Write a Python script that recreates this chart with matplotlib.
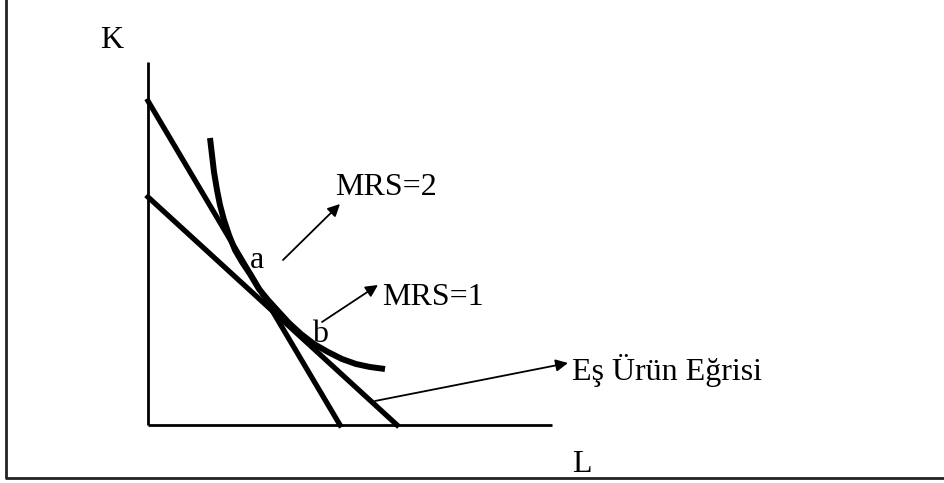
import matplotlib.pyplot as plt

plt.rcParams['font.family'] = ['Liberation Serif', 'DejaVu Serif']

# isoquant (Eş Ürün Eğrisi)
iso_L = [1.55, 1.6, 1.65, 1.725, 1.8, 1.9, 2.025, 2.175, 2.35, 2.55, 2.775,
         3.0, 3.25, 3.525, 3.825, 4.15, 4.5, 4.85, 5.2, 5.55, 5.925]
iso_K = [7.175, 6.75, 6.325, 5.875, 5.5, 5.125, 4.75, 4.375, 4.075, 3.775, 3.4,
         3.125, 2.85, 2.55, 2.275, 2.025, 1.825, 1.65, 1.525, 1.45, 1.4]

# straight lines: (K intercept, L intercept)
steep_line = [8.1, 4.8]     # MRS=2
flat_line = [5.7, 6.225]    # MRS=1

# axis extents
K_max = 9.075
L_max = 10.1

fig = plt.figure(figsize=(9.44, 4.83), dpi=100)
ax = fig.add_axes([0, 0, 1, 1])
ax.axis('off')
ax.set_xlim(-3.7, 19.9)
ax.set_ylim(-1.45, 10.625)

# outer frame (left + bottom only)
ax.plot([-3.5625, -3.5625, 21], [11, -1.3125, -1.3125], color='#222222', lw=2.0,
        solid_capstyle='butt')

# K and L axes
ax.plot([0, 0], [0, K_max], color='black', lw=2.0, solid_capstyle='butt')
ax.plot([0, L_max], [0, 0], color='black', lw=2.0, solid_capstyle='butt')

# lines
ax.plot([0, steep_line[1]], [steep_line[0], 0], color='black', lw=3.8)
ax.plot([0, flat_line[1]], [flat_line[0], 0], color='black', lw=3.8)

# curve
ax.plot(iso_L, iso_K, color='black', lw=4.3, solid_capstyle='butt',
        solid_joinstyle='round')

arrow = dict(arrowstyle='-|>', lw=1.3, color='black', mutation_scale=18,
             shrinkA=0, shrinkB=0)
ax.annotate('', xy=(4.8, 5.525), xytext=(3.375, 4.125), arrowprops=arrow)
ax.annotate('', xy=(5.75, 3.5), xytext=(4.35, 2.575), arrowprops=arrow)
ax.annotate('', xy=(10.5, 1.55), xytext=(5.675, 0.6), arrowprops=arrow)

fs = 23
ax.text(4.675, 5.75, 'MRS=2', fontsize=fs, ha='left', va='baseline')
ax.text(5.85, 3.0, 'MRS=1', fontsize=fs, ha='left', va='baseline')
ax.text(10.6, 1.125, 'Eş Ürün Eğrisi', fontsize=fs, ha='left', va='baseline')
ax.text(-1.2, 9.425, 'K', fontsize=fs, ha='left', va='baseline')
ax.text(10.6, -1.175, 'L', fontsize=fs, ha='left', va='baseline')
ax.text(2.55, 3.925, 'a', fontsize=fs, ha='left', va='baseline')
ax.text(4.1, 2.075, 'b', fontsize=fs, ha='left', va='baseline')

fig.savefig('out.png', dpi=100)
